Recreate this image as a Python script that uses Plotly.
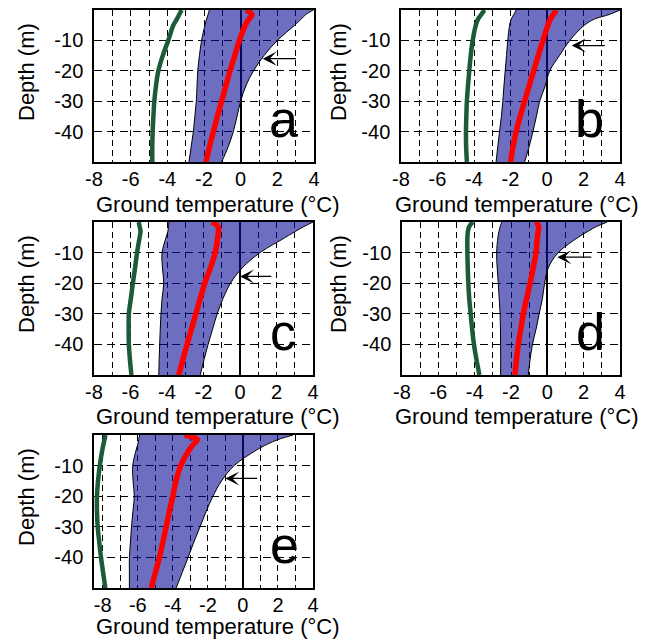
import plotly.graph_objects as go

# ---------------- data ----------------
DEPTH = [0, -1.5, -3, -5, -10, -15, -20, -25, -30, -35, -40, -45, -50]

PANEL_LABELS = ["a", "b", "c", "d", "e"]

GREEN_A = [-3.22, -3.35, -3.48, -3.67, -3.95, -4.25, -4.49, -4.62, -4.71, -4.76, -4.80, -4.82, -4.82]
RED_A = [0.29, 0.62, 0.45, 0.25, -0.07, -0.32, -0.58, -0.81, -1.04, -1.27, -1.49, -1.70, -1.89]
LOW_A = [-1.71, -1.78, -1.86, -1.95, -2.13, -2.25, -2.34, -2.38, -2.42, -2.50, -2.58, -2.70, -2.82]
HIGH_A = [3.96, 3.55, 3.30, 2.95, 2.00, 1.27, 0.70, 0.28, 0.00, -0.20, -0.40, -0.68, -1.04]

GREEN_B = [-3.43, -3.60, -3.78, -3.90, -4.07, -4.18, -4.26, -4.33, -4.39, -4.42, -4.44, -4.43, -4.39]
RED_B = [0.51, 0.35, 0.18, 0.05, -0.22, -0.48, -0.73, -0.98, -1.23, -1.47, -1.69, -1.86, -2.00]
LOW_B = [-1.69, -1.82, -1.96, -2.05, -2.15, -2.22, -2.29, -2.36, -2.42, -2.50, -2.60, -2.70, -2.79]
HIGH_B = [4.00, 3.40, 2.60, 2.05, 1.25, 0.68, 0.15, -0.10, -0.40, -0.58, -0.77, -0.98, -1.23]

GREEN_C = [-5.55, -5.50, -5.45, -5.50, -5.64, -5.75, -5.87, -5.98, -6.09, -6.10, -6.09, -6.03, -5.95]
RED_C = [-1.55, -1.20, -1.18, -1.22, -1.36, -1.62, -1.93, -2.18, -2.42, -2.66, -2.90, -3.13, -3.36]
LOW_C = [-3.90, -3.92, -3.95, -4.05, -4.27, -4.25, -4.18, -4.27, -4.33, -4.37, -4.40, -4.43, -4.45]
HIGH_C = [4.00, 3.50, 3.05, 2.50, 1.10, 0.12, -0.52, -0.93, -1.25, -1.50, -1.75, -1.97, -2.18]

GREEN_D = [-4.11, -4.30, -4.37, -4.40, -4.40, -4.38, -4.35, -4.30, -4.22, -4.14, -4.04, -3.90, -3.74]
RED_D = [-0.62, -0.48, -0.50, -0.55, -0.62, -0.78, -0.95, -1.14, -1.32, -1.46, -1.60, -1.70, -1.78]
LOW_D = [-2.51, -2.60, -2.66, -2.72, -2.79, -2.76, -2.70, -2.65, -2.60, -2.58, -2.57, -2.57, -2.57]
HIGH_D = [3.30, 2.70, 2.25, 1.70, 0.60, 0.05, -0.15, -0.27, -0.45, -0.62, -0.82, -0.95, -1.05]

GREEN_E = [-7.85, -7.90, -7.96, -8.03, -8.17, -8.27, -8.33, -8.33, -8.29, -8.20, -8.10, -7.98, -7.85]
RED_E = [-3.33, -2.60, -2.82, -3.08, -3.55, -3.82, -4.00, -4.20, -4.38, -4.57, -4.76, -5.00, -5.24]
LOW_E = [-5.90, -5.95, -6.00, -6.10, -6.29, -6.27, -6.20, -6.28, -6.36, -6.42, -6.48, -6.48, -6.48]
HIGH_E = [2.86, 2.00, 1.40, 0.75, -0.50, -1.22, -1.71, -2.10, -2.45, -2.80, -3.13, -3.47, -3.81]

GREEN = [GREEN_A, GREEN_B, GREEN_C, GREEN_D, GREEN_E]
RED = [RED_A, RED_B, RED_C, RED_D, RED_E]
LOW = [LOW_A, LOW_B, LOW_C, LOW_D, LOW_E]
HIGH = [HIGH_A, HIGH_B, HIGH_C, HIGH_D, HIGH_E]

X_MIN = [-8, -8, -8, -8, -8.5]
X_MAX = 4
ARROW_TIP_X = [1.2, 1.35, 0.0, 0.55, -1.0]
ARROW_TAIL_X = [3.1, 3.25, 1.8, 2.5, 0.9]
ARROW_Y = [-16, -11.7, -17.8, -11.5, -14.2]

X_TICKS = [-8, -6, -4, -2, 0, 2, 4]
X_TICK_TEXT = ["-8", "-6", "-4", "-2", "0", "2", "4"]
X_MINOR = [-7, -5, -3, -1, 1, 3]
Y_TICKS = [-10, -20, -30, -40]
Y_TICK_TEXT = ["-10", "-20", "-30", "-40"]

X_TITLE = "Ground temperature (°C)"
Y_TITLE = "Depth (m)"

# ---------------- layout geometry (pixels) ----------------
W, H = 653, 640
BOXES = [(94, 314, 10, 162), (401, 620, 10, 162), (94, 313, 222, 375),
         (402, 620, 222, 375), (94, 313, 435, 588)]
XTITLE_POS = [(218, 204), (517, 204), (218, 416), (517, 416), (218, 626)]
YTITLE_POS = [(26, 72), (338, 72), (26, 284), (338, 284), (26, 497)]

FONT = "Liberation Sans, Arial, Helvetica, sans-serif"
BAND = "rgba(13,13,150,0.6)"
GREEN_COL = "#1d5a3a"
RED_COL = "#ff0000"

fig = go.Figure()
annotations = []
layout = {}

for i, lab in enumerate(PANEL_LABELS):
    s = "" if i == 0 else str(i + 1)
    xa, ya = "x" + s, "y" + s
    fig.add_trace(go.Scatter(x=LOW[i], y=DEPTH, mode="lines",
                             line=dict(color="black", width=1, shape="spline"),
                             xaxis=xa, yaxis=ya, showlegend=False, hoverinfo="skip"))
    fig.add_trace(go.Scatter(x=HIGH[i], y=DEPTH, mode="lines", fill="tonextx",
                             fillcolor=BAND,
                             line=dict(color="black", width=1, shape="spline"),
                             xaxis=xa, yaxis=ya, showlegend=False, hoverinfo="skip"))
    fig.add_trace(go.Scatter(x=GREEN[i], y=DEPTH, mode="lines",
                             line=dict(color=GREEN_COL, width=4.5, shape="spline"),
                             xaxis=xa, yaxis=ya, showlegend=False))
    fig.add_trace(go.Scatter(x=RED[i], y=DEPTH, mode="lines",
                             line=dict(color=RED_COL, width=5.5, shape="spline"),
                             xaxis=xa, yaxis=ya, showlegend=False))

    x0, x1, y0, y1 = BOXES[i]
    layout["xaxis" + s] = dict(
        domain=[x0 / W, x1 / W], anchor=ya, range=[X_MIN[i], X_MAX],
        tickmode="array", tickvals=X_TICKS, ticktext=X_TICK_TEXT,
        showgrid=True, gridcolor="black", gridwidth=1, griddash="6px,4px",
        minor=dict(tickmode="array", tickvals=X_MINOR, showgrid=True,
                   gridcolor="black", gridwidth=1, griddash="6px,4px"),
        zeroline=True, zerolinecolor="black", zerolinewidth=1.5,
        showline=True, mirror=True, linecolor="black", linewidth=1.5,
        ticks="", tickfont=dict(size=20, color="black", family=FONT),
        ticklabelstandoff=-2,
        automargin=False, fixedrange=True)
    layout["yaxis" + s] = dict(
        domain=[1 - y1 / H, 1 - y0 / H], anchor=xa, range=[-50, 0],
        tickmode="array", tickvals=Y_TICKS, ticktext=Y_TICK_TEXT,
        showgrid=True, gridcolor="black", gridwidth=1, griddash="8px,5px",
        zeroline=False, showline=True, mirror=True, linecolor="black", linewidth=1.5,
        ticks="", tickfont=dict(size=20, color="black", family=FONT),
        ticklabelstandoff=5,
        automargin=False, fixedrange=True)

    # axis titles
    tx, ty = XTITLE_POS[i]
    annotations.append(dict(x=tx / W, y=1 - ty / H, xref="paper", yref="paper",
                            text=X_TITLE, showarrow=False, xanchor="center",
                            yanchor="middle",
                            font=dict(size=22, color="black", family=FONT)))
    tx, ty = YTITLE_POS[i]
    annotations.append(dict(x=tx / W, y=1 - ty / H, xref="paper", yref="paper",
                            text=Y_TITLE, showarrow=False, xanchor="center",
                            yanchor="middle", textangle=-90,
                            font=dict(size=22, color="black", family=FONT)))

    annotations.append(dict(x=2.35, y=-36, xref=xa, yref=ya, text=lab,
                            showarrow=False, xanchor="center", yanchor="middle",
                            font=dict(size=52, color="black", family=FONT)))
    annotations.append(dict(x=ARROW_TIP_X[i], y=ARROW_Y[i], ax=ARROW_TAIL_X[i], ay=ARROW_Y[i],
                            xref=xa, yref=ya, axref=xa, ayref=ya, text="",
                            showarrow=True, arrowhead=3, arrowsize=1.8, arrowwidth=1.3,
                            arrowcolor="black"))

fig.update_layout(**layout)
fig.update_layout(width=W, height=H, margin=dict(l=0, r=0, t=0, b=0),
                  paper_bgcolor="white", plot_bgcolor="white",
                  font=dict(family=FONT, color="black"),
                  annotations=annotations, showlegend=False)

fig.write_html("out.html")
